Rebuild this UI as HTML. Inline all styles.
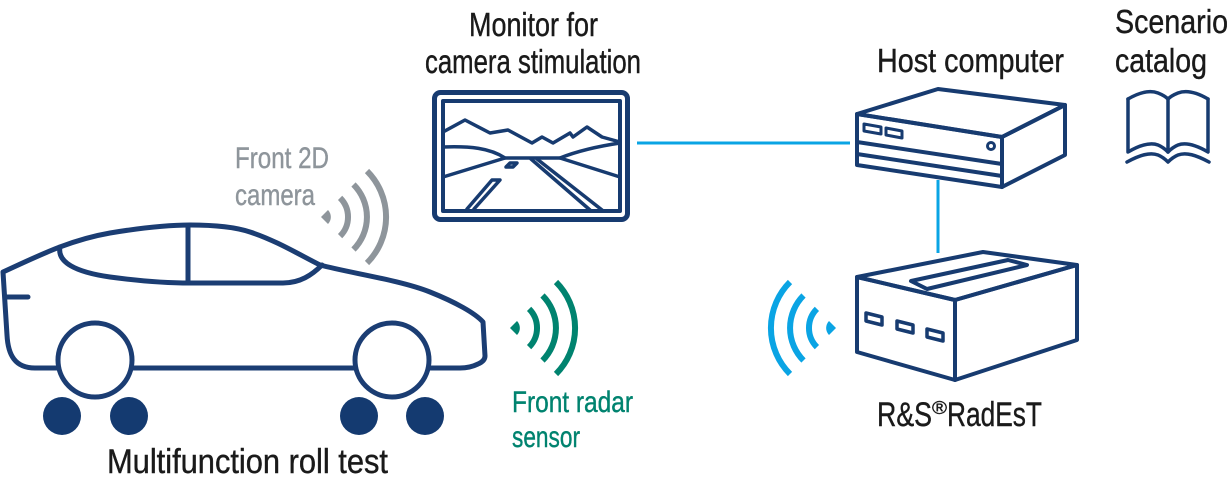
<!DOCTYPE html>
<html>
<head>
<meta charset="utf-8">
<style>
  html,body{margin:0;padding:0;background:#fff;}
  svg{display:block;}
  text{font-family:"Liberation Sans Narrow","Liberation Sans",sans-serif;}
</style>
</head>
<body>
<svg width="1230" height="478" viewBox="0 0 1230 478" xmlns="http://www.w3.org/2000/svg">
  <!-- connectors -->
  <line x1="637" y1="143" x2="850" y2="143" stroke="#0aa4e4" stroke-width="3"/>
  <line x1="938" y1="180" x2="938" y2="253" stroke="#0aa4e4" stroke-width="3"/>

  <!-- ============ CAR ============ -->
  <g fill="none" stroke="#1b3d73" stroke-width="5" stroke-linecap="round" stroke-linejoin="round">
    <path d="M3,272 C40,255 70,240 110,233 C140,228 165,225 190,225 C215,225 235,227 250,232 C275,240 300,255 320,265 C350,273 400,280 430,292 C455,302 475,313 483,322 L485,356 Q485,361 478,364 Q470,368 460,368 L59,368 L35,368 C15,368 8,355 7,335 Z"/>
    <path d="M5,297 L28,297"/>
    <path d="M60,247 C57,262 75,272 110,277 C140,281 170,283 190,283 L283,283 C300,283 312,275 322,265"/>
    <path d="M188,226 L188,283"/>
    <circle cx="95" cy="360" r="37" fill="#fff"/>
    <circle cx="392" cy="360" r="37" fill="#fff"/>
  </g>
  <g fill="#143a70">
    <circle cx="62" cy="416" r="19"/>
    <circle cx="129" cy="416" r="19"/>
    <circle cx="359" cy="416" r="19"/>
    <circle cx="425" cy="416" r="19"/>
  </g>

  <!-- camera waves (gray) center 321,217 -->
  <g fill="none" stroke="#8e959b" stroke-width="6">
    <path d="M340.1,197.9 A27,27 0 0 1 340.1,236.1"/>
    <path d="M353.5,184.5 A46,46 0 0 1 353.5,249.5"/>
    <path d="M367,171 A65,65 0 0 1 367,263"/>
  </g>
  <path d="M321,217 L328,210 A10,10 0 0 1 328,224 Z" fill="#8e959b"/>

  <!-- radar waves (teal) center 510,328 -->
  <g fill="none" stroke="#00836f" stroke-width="6">
    <path d="M529.1,308.9 A27,27 0 0 1 529.1,347.1"/>
    <path d="M542.5,295.5 A46,46 0 0 1 542.5,360.5"/>
    <path d="M556,282 A65,65 0 0 1 556,374"/>
  </g>
  <path d="M510,328 L517,321 A10,10 0 0 1 517,335 Z" fill="#00836f"/>

  <!-- RadEsT waves (blue) center 836,328 mirrored -->
  <g fill="none" stroke="#0aa4e4" stroke-width="6">
    <path d="M816.9,308.9 A27,27 0 0 0 816.9,347.1"/>
    <path d="M803.5,295.5 A46,46 0 0 0 803.5,360.5"/>
    <path d="M790,282 A65,65 0 0 0 790,374"/>
  </g>
  <path d="M836,328 L829,321 A10,10 0 0 0 829,335 Z" fill="#0aa4e4"/>

  <!-- ============ MONITOR ============ -->
  <g fill="none" stroke="#173b70" stroke-linejoin="round" stroke-linecap="round">
    <rect x="434.5" y="92.5" width="193" height="127" rx="6" stroke-width="5"/>
    <rect x="443" y="101" width="177" height="110" stroke-width="4"/>
    <g stroke-width="3.5">
      <path d="M443,132 L465,120 L490,133 L508,130 L532,143 L542,137 L553,143 L570,133 L573,137 L587,127 L602,137 L620,142"/>
      <path d="M443,147 C470,146 490,148 505,158 L560,158 C580,150 600,146 620,143"/>
      <path d="M443,177 L505,158"/>
      <path d="M560,158 L620,177"/>
      <path d="M467,209 L492,180 L500,180 L474,209"/>
      <path d="M506,167 L510,163 L517,163 L513,167 Z"/>
      <path d="M531,159 L590,210"/>
      <path d="M537,159 L602,210"/>
    </g>
  </g>

  <!-- ============ HOST COMPUTER ============ -->
  <g fill="none" stroke="#173b70" stroke-width="4" stroke-linejoin="round" stroke-linecap="round">
    <path d="M857,114 L938,89 L1065,105 L1002,137 Z"/>
    <path d="M857,114 L1002,137 L1002,187 L857,165 Z"/>
    <path d="M1002,137 L1065,105 L1065,155 L1002,187"/>
    <path d="M857,142 L1002,164"/>
    <path d="M857,154 L1002,176"/>
    <path d="M864,124 L881,127 L881,134 L864,131 Z" stroke-width="3"/>
    <path d="M886,128 L902,131 L902,138 L886,135 Z" stroke-width="3"/>
    <circle cx="991" cy="146" r="3.5" stroke-width="3"/>
  </g>

  <!-- ============ BOOK ============ -->
  <g fill="none" stroke="#173b70" stroke-width="3.5" stroke-linejoin="round" stroke-linecap="round">
    <path d="M1128,99 C1140,92 1150,90 1158,93 C1163,95 1166,97 1168,99 C1170,97 1173,95 1178,93 C1186,90 1196,92 1208,99"/>
    <path d="M1128,99 L1128,152 C1140,145 1150,142 1158,145 C1163,147 1166,150 1168,152 C1170,150 1173,147 1178,145 C1186,142 1196,145 1208,152 L1208,99"/>
    <path d="M1168,99 L1168,152"/>
    <path d="M1127,162 C1140,155 1150,152 1158,155 C1163,157 1166,160 1168,162 C1170,160 1173,157 1178,155 C1186,152 1196,155 1209,162"/>
  </g>

  <!-- ============ RadEsT BOX ============ -->
  <g fill="none" stroke="#173b70" stroke-width="4" stroke-linejoin="round" stroke-linecap="round">
    <path d="M857,277 L983,252 L1077,265 L955,300 Z"/>
    <path d="M857,277 L955,300 L955,380 L857,352 Z"/>
    <path d="M955,300 L1077,265 L1077,340 L955,380"/>
    <path d="M911,281 L1008,260 L1027,265 L927,289 Z"/>
    <path d="M866,313 L882,317 L882,325 L866,321 Z" stroke-width="3.5"/>
    <path d="M897,321 L913,325 L913,333 L897,329 Z" stroke-width="3.5"/>
    <path d="M927,329 L943,333 L943,341 L927,337 Z" stroke-width="3.5"/>
  </g>

  <!-- ============ TEXT ============ -->
  <g fill="#1a1a1a" stroke="#1a1a1a" stroke-width="0.4" font-size="33">
    <text x="469" y="36" textLength="129" lengthAdjust="spacingAndGlyphs">Monitor for</text>
    <text x="425" y="73" textLength="216" lengthAdjust="spacingAndGlyphs">camera stimulation</text>
    <text x="877" y="72" textLength="187" lengthAdjust="spacingAndGlyphs">Host computer</text>
    <text x="1115" y="33" textLength="113" lengthAdjust="spacingAndGlyphs">Scenario</text>
    <text x="1115" y="72" textLength="92" lengthAdjust="spacingAndGlyphs">catalog</text>
    <text x="107" y="473" font-size="34" textLength="281" lengthAdjust="spacingAndGlyphs">Multifunction roll test</text>
    <text x="877" y="426" font-size="34" textLength="55" lengthAdjust="spacingAndGlyphs">R&amp;S</text>
    <text x="932" y="414" font-size="18" textLength="15" lengthAdjust="spacingAndGlyphs">®</text>
    <text x="947" y="426" font-size="34" textLength="95" lengthAdjust="spacingAndGlyphs">RadEsT</text>
  </g>
  <g fill="#8e959b" stroke="#8e959b" stroke-width="0.4" font-size="30">
    <text x="235" y="168" textLength="94" lengthAdjust="spacingAndGlyphs">Front 2D</text>
    <text x="235" y="205" textLength="80" lengthAdjust="spacingAndGlyphs">camera</text>
  </g>
  <g fill="#00836f" stroke="#00836f" stroke-width="0.4" font-size="30">
    <text x="512" y="412" textLength="121" lengthAdjust="spacingAndGlyphs">Front radar</text>
    <text x="512" y="447" textLength="68" lengthAdjust="spacingAndGlyphs">sensor</text>
  </g>
</svg>
</body>
</html>
